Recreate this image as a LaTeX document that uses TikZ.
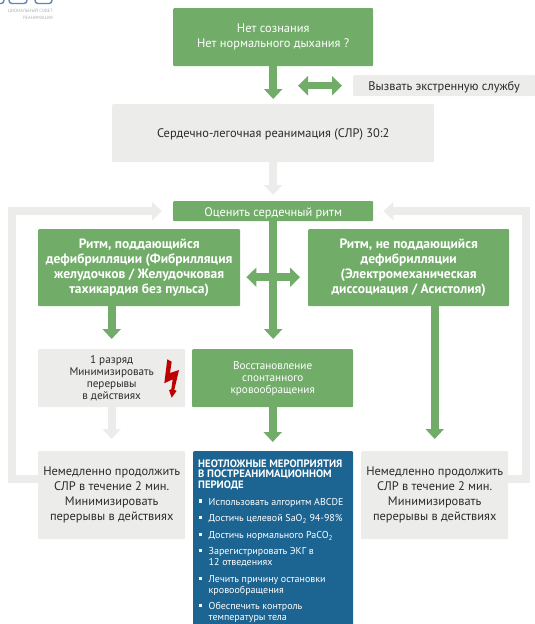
\documentclass[tikz,border=0pt]{standalone}
\usepackage{fontspec}
\setmainfont{PT Sans}
\usetikzlibrary{arrows.meta,calc}
\definecolor{grn}{HTML}{71AD68}
\definecolor{gry}{HTML}{ECECEB}
\definecolor{blu}{HTML}{1C6491}
\definecolor{txt}{HTML}{2B2B2B}
\definecolor{logob}{HTML}{5F86B5}
\definecolor{logog}{HTML}{A9B0B8}
\tikzset{
 boxbase/.style={anchor=north west,inner sep=0pt,rounded corners=1pt,align=center},
 greenbox/.style={boxbase,fill=grn,text=white},
 graybox/.style={boxbase,fill=gry,text=txt},
 drop/.style={execute at begin node={\rule{0pt}{#1}}},
 big/.style={font=\fontsize{12.4}{15}\selectfont,drop=12.3pt},
 cont/.style={font=\fontsize{12.4}{15}\selectfont,drop=13pt},
 bigb/.style={font=\fontsize{13.5}{15}\selectfont\bfseries,drop=12pt},
 small/.style={font=\fontsize{11.2}{12}\selectfont,drop=10.5pt},
 arr/.style={line width=8pt,-{Triangle[width=18pt,length=10pt]}},
 garr/.style={arr,draw=grn},
 harr/.style={arr,draw=gry},
 dblarr/.style={draw=grn,line width=7.5pt,{Triangle[width=19pt,length=10pt]}-{Triangle[width=19pt,length=10pt]}},
 bul/.style={anchor=north west,inner sep=0pt,text=white,align=left,font=\fontsize{10}{11}\selectfont},
}
\begin{document}
\begin{tikzpicture}[x=1pt,y=1pt]
\useasboundingbox (0,0) rectangle (535,-624);
% logo
\begin{scope}
\clip (0,0) rectangle (60,-20);
\draw[logob,line width=1.4pt,rounded corners=3pt] (-6,4) rectangle (4,-3.5);
\draw[logob,line width=1.4pt,rounded corners=3pt] (9,4) rectangle (27,-3.5);
\draw[logob,line width=1.4pt,rounded corners=3pt] (35,4) rectangle (52,-3.5);
\node[anchor=north east,inner sep=0pt,text=logog,font=\fontsize{4.6}{6.4}\selectfont,align=right] (logotext) at (53,-8.5) {ЦИОНАЛЬНЫЙ СОВЕТ\\ РЕАНИМАЦИИ};
\end{scope}
% boxes
\node[greenbox,big,minimum width=200pt,minimum height=58pt] (start) at (173,-8) {Нет сознания\\Нет нормального дыхания ?};
\node[graybox,big,minimum width=182pt,minimum height=21pt] (call) at (353,-75) {Вызвать экстренную службу};
\node[graybox,big,minimum width=322pt,minimum height=58pt] (cpr) at (112,-104) {Сердечно-легочная реанимация (СЛР) 30:2};
\node[greenbox,big,minimum width=200pt,minimum height=20pt] (eval) at (173,-201) {Оценить сердечный ритм};
\node[greenbox,bigb,minimum width=202pt,minimum height=77pt] (shockable) at (38,-229) {Ритм, поддающийся\\дефибрилляции (Фибрилляция\\желудочков / Желудочковая\\тахикардия без пульса)};
\node[greenbox,bigb,minimum width=201pt,minimum height=77pt] (nonshock) at (308,-229) {Ритм, не поддающийся\\дефибрилляции\\(Электромеханическая\\диссоциация / Асистолия)};
\node[graybox,small,minimum width=147pt,minimum height=58pt] (shock) at (38,-349) {1 разряд\\Минимизировать\\перерывы\\в действиях};
\node[greenbox,small,minimum width=161pt,minimum height=58pt] (rosc) at (192,-349) {Восстановление\\спонтанного\\кровообращения};
\node[graybox,cont,minimum width=147pt,minimum height=88pt] (contl) at (38,-451) {Немедленно продолжить\\СЛР в течение 2 мин.\\Минимизировать\\перерывы в действиях};
\node[graybox,cont,minimum width=147pt,minimum height=88pt] (contr) at (361,-451) {Немедленно продолжить\\СЛР в течение 2 мин.\\Минимизировать\\перерывы в действиях};
\node[boxbase,fill=blu,minimum width=160pt,minimum height=174pt] (post) at (193,-451) {};
\node[anchor=north west,inner sep=0pt,text=white,font=\fontsize{10.7}{10.6}\selectfont\bfseries,align=left] (posttitle) at (198,-459.5) {НЕОТЛОЖНЫЕ МЕРОПРИЯТИЯ\\В ПОСТРЕАНИМАЦИОННОМ\\ПЕРИОДЕ};
\foreach \yy/\lbl [count=\i] in {
 -498/{Использовать алгоритм ABCDE},
 -514.5/{Достичь целевой SaO\textsubscript{2} 94-98\%},
 -531.5/{Достичь нормального PaCO\textsubscript{2}},
 -547.5/{Зарегистрировать ЭКГ в\\12 отведениях},
 -575.5/{Лечить причину остановки\\кровообращения},
 -602.5/{Обеспечить контроль\\температуры тела}}{
  \fill[white] (198.5,\yy-1) rectangle (202,\yy-4.5);
  \node[bul] (li\i) at (208.5,\yy) {\lbl};
}
% connectors
\draw[garr,shorten >=5pt] (start.south) -- (cpr.north);
\draw[dblarr] ($(call.west)+(-55,0)$) -- ($(call.west)+(-11,0)$);
\draw[harr,shorten >=6pt] (cpr.south) -- (eval.north);
\draw[garr,shorten >=10pt] (eval.south) -- (eval.south |- rosc.north);
\draw[dblarr] ($(shockable.east)+(6,-9.5)$) -- ($(nonshock.west)+(-8,-9.5)$);
\draw[garr,shorten >=10pt] (shock.north |- shockable.south) -- (shock.north);
\draw[harr,shorten >=12pt] (shock.south) -- (contl.north);
\draw[garr,shorten >=9pt] (rosc.south) -- (post.north -| rosc.south);
\draw[garr,shorten >=12pt] (contr.north |- nonshock.south) -- (contr.north);
\draw[harr] ($(contl.west)+(0,16)$) -- ++(-26.5,0) |- ($(eval.west)+(-11,0)$);
\draw[harr] ($(contr.east)+(0,16)$) -- ++(18,0) |- ($(eval.east)+(10,0)$);
% bolt
\fill[red!75!black] (167.3,-359.3) -- (171.7,-361.7) -- (170,-373) -- (179,-370) -- (174.3,-390) -- (176.7,-390.7) -- (171.7,-397.7) -- (169,-390) -- (171.3,-389.3) -- (172.7,-379.3) -- (164.3,-383.3) -- cycle;
\end{tikzpicture}
\end{document}
